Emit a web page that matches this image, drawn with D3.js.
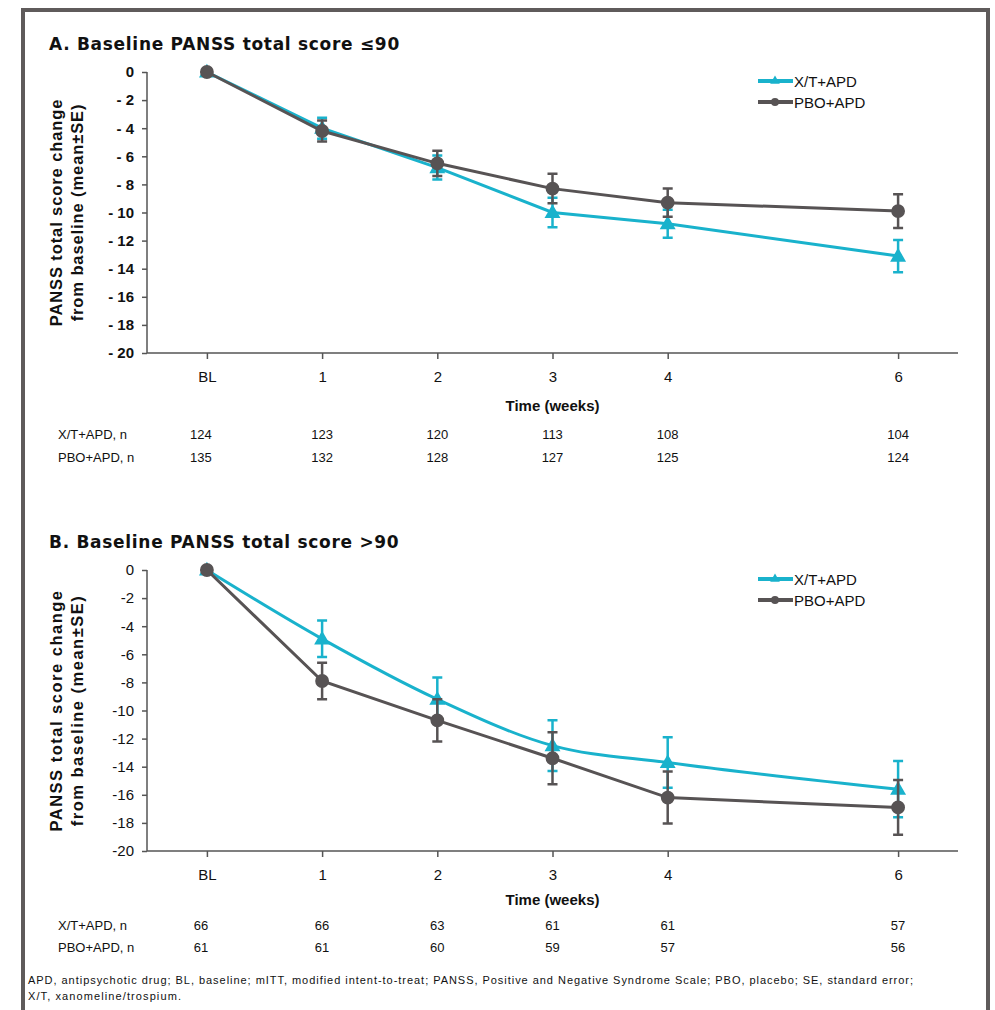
<!DOCTYPE html>
<html>
<head>
<meta charset="utf-8">
<script src="https://cdn.jsdelivr.net/npm/d3@7"></script>
<style>
  body { margin: 0; background: #fff; }
  svg text { font-family: "Liberation Sans", Arial, sans-serif; fill: #111; }
  .title { font-family: "DejaVu Sans", sans-serif; font-weight: 700; font-size: 17px; }
  .ylab { font-weight: 700; font-size: 16.5px; }
  .axis path, .axis line { stroke: #555; stroke-width: 1.5; }
  .axis text { font-size: 15px; fill: #111; }
  .boldticks text { font-weight: 700; }
  .ntab { font-size: 13px; }
  .legend { font-size: 15px; }
  .foot { font-size: 11px; }
</style>
</head>
<body>
<div id="chart"></div>
<script>
// weeks and tick labels
const weeks = [0, 1, 2, 3, 4, 6];
const weekLabels = ["BL", "1", "2", "3", "4", "6"];
const yTickValues = [0, -2, -4, -6, -8, -10, -12, -14, -16, -18, -20];
const seriesNames = ["X/T+APD", "PBO+APD"];

// panel A: baseline PANSS <= 90
const aXT = [0, -4.0, -6.8, -10.0, -10.8, -13.1];
const aXTse = [0, 0.75, 0.85, 1.05, 1.0, 1.15];
const aPBO = [0, -4.2, -6.5, -8.3, -9.3, -9.9];
const aPBOse = [0, 0.75, 0.9, 1.05, 1.0, 1.2];
const aNxt = [124, 123, 120, 113, 108, 104];
const aNpbo = [135, 132, 128, 127, 125, 124];

// panel B: baseline PANSS > 90
const bXT = [0, -4.9, -9.2, -12.5, -13.7, -15.6];
const bXTse = [0, 1.3, 1.55, 1.8, 1.8, 2.0];
const bPBO = [0, -7.9, -10.7, -13.4, -16.2, -16.9];
const bPBOse = [0, 1.3, 1.5, 1.85, 1.85, 1.95];
const bNxt = [66, 66, 63, 61, 61, 57];
const bNpbo = [61, 61, 60, 59, 57, 56];

const width = 995;
const height = 1010;
const cyan = "#19b2cc";
const grey = "#575354";

const svg = d3.select("#chart").append("svg")
    .attr("width", width)
    .attr("height", height);

// outer frame
svg.append("rect")
    .attr("x", 23).attr("y", 10)
    .attr("width", 965).attr("height", 1030)
    .attr("fill", "none")
    .attr("stroke", "#5f5b5b")
    .attr("stroke-width", 4);

const x = d3.scaleLinear().domain([-0.52, 6.52]).range([147, 958]);

function panel(opts) {
  const top = opts.top;
  const y = d3.scaleLinear().domain([-20, 0]).range([top + 281, top]);

  svg.append("text")
      .attr("class", "title")
      .attr("x", 49).attr("y", top - 22)
      .style("letter-spacing", "0.7px")
      .text(opts.title);

  // y axis
  svg.append("g")
      .attr("class", "axis" + (opts.boldTicks ? " boldticks" : ""))
      .attr("transform", `translate(${x.range()[0]},0)`)
      .call(d3.axisLeft(y).tickValues(yTickValues).tickSize(5).tickPadding(8)
        .tickFormat(d => opts.boldTicks ? String(d).replace("-", "- ") : d))
      .call(g => g.select(".domain").attr("d", `M0,${y(0)}V${y(-20)}`));

  // x axis
  svg.append("g")
      .attr("class", "axis")
      .attr("transform", `translate(0,${y(-20)})`)
      .call(d3.axisBottom(x).tickValues(weeks).tickSize(6).tickPadding(12)
        .tickFormat((d, i) => weekLabels[i]))
      .call(g => g.select(".domain").attr("d", `M${x.range()[0]},0H${x.range()[1]}`));

  svg.append("text")
      .attr("x", x(3)).attr("y", y(-20) + opts.timeOff)
      .attr("text-anchor", "middle")
      .style("font-weight", 700).style("font-size", "15px")
      .text("Time (weeks)");

  // y axis title
  const yt = svg.append("text")
      .attr("class", "ylab")
      .attr("text-anchor", "middle")
      .style("letter-spacing", opts.ylabSpacing)
      .attr("transform", `translate(57,${y(-10)}) rotate(-90)`);
  yt.append("tspan").attr("x", 0).attr("dy", 5).text("PANSS total score change");
  yt.append("tspan").attr("x", 0).attr("dy", 21).text("from baseline (mean\u00b1SE)");

  const series = [
    {name: seriesNames[0], vals: opts.xt, se: opts.xtSe, color: cyan, shape: "tri", curve: opts.xtCurve},
    {name: seriesNames[1], vals: opts.pbo, se: opts.pboSe, color: grey, shape: "circ", curve: d3.curveLinear}
  ];

  series.forEach(s => {
    const pts = weeks.map((w, i) => ({w: w, v: s.vals[i], se: s.se[i]}));
    const g = svg.append("g");

    g.selectAll("path.err")
        .data(pts.filter(d => d.se > 0))
        .enter().append("path")
        .attr("class", "err")
        .attr("d", d => `M${x(d.w)},${y(d.v + d.se)}V${y(d.v - d.se)}` +
          `M${x(d.w) - 5},${y(d.v + d.se)}H${x(d.w) + 5}` +
          `M${x(d.w) - 5},${y(d.v - d.se)}H${x(d.w) + 5}`)
        .attr("stroke", s.color).attr("stroke-width", 2.5).attr("fill", "none");

    g.append("path")
        .datum(pts)
        .attr("d", d3.line().x(d => x(d.w)).y(d => y(d.v)).curve(s.curve))
        .attr("stroke", s.color).attr("stroke-width", 3).attr("fill", "none");

    const sym = s.shape === "tri"
      ? d3.symbol().type(d3.symbolTriangle).size(110)
      : d3.symbol().type(d3.symbolCircle).size(150);
    g.selectAll("path.mark")
        .data(pts)
        .enter().append("path")
        .attr("class", "mark")
        .attr("transform", d => `translate(${x(d.w)},${y(d.v) + (s.shape === "tri" ? 1 : 0)})`)
        .attr("d", sym)
        .attr("fill", s.color);
  });

  // legend
  const lg = svg.append("g").attr("transform", `translate(758,${top + 9})`);
  series.forEach((s, i) => {
    const row = lg.append("g").attr("transform", `translate(0,${i * 21})`);
    row.append("line").attr("x1", 0).attr("x2", 35)
        .attr("stroke", s.color).attr("stroke-width", 4);
    row.append("path")
        .attr("transform", "translate(17,0)")
        .attr("d", s.shape === "tri"
          ? d3.symbol().type(d3.symbolTriangle).size(40)
          : d3.symbol().type(d3.symbolCircle).size(50))
        .attr("fill", s.color);
    row.append("text").attr("class", "legend")
        .attr("x", 36).attr("y", 5.5).text(s.name);
  });

  // n table
  const rows = [
    {label: "X/T+APD, n", n: opts.nXt},
    {label: "PBO+APD, n", n: opts.nPbo}
  ];
  rows.forEach((r, i) => {
    const ty = y(-20) + opts.rowOff + i * opts.rowGap;
    svg.append("text").attr("class", "ntab")
        .attr("x", 58).attr("y", ty).text(r.label);
    svg.selectAll(null)
        .data(r.n)
        .enter().append("text")
        .attr("class", "ntab")
        .attr("x", (d, j) => x(weeks[j]) - (j === 0 ? 6 : 0))
        .attr("y", ty)
        .attr("text-anchor", "middle")
        .text(d => d);
  });
}

panel({
  top: 72, title: "A. Baseline PANSS total score \u226490", boldTicks: true,
  xt: aXT, xtSe: aXTse, pbo: aPBO, pboSe: aPBOse, nXt: aNxt, nPbo: aNpbo,
  xtCurve: d3.curveLinear, timeOff: 58, rowOff: 86, rowGap: 23, ylabSpacing: "0.9px"
});

panel({
  top: 570, title: "B. Baseline PANSS total score >90", boldTicks: false,
  xt: bXT, xtSe: bXTse, pbo: bPBO, pboSe: bPBOse, nXt: bNxt, nPbo: bNpbo,
  xtCurve: d3.curveMonotoneX, timeOff: 54, rowOff: 79, rowGap: 22, ylabSpacing: "1.5px"
});

// footnote
const foot = svg.append("text").attr("class", "foot").attr("x", 28).attr("y", 984);
foot.append("tspan").attr("x", 28)
    .attr("textLength", 885).attr("lengthAdjust", "spacing")
    .text("APD, antipsychotic drug; BL, baseline; mITT, modified intent-to-treat; PANSS, Positive and Negative Syndrome Scale; PBO, placebo; SE, standard error;");
foot.append("tspan").attr("x", 28).attr("dy", 16)
    .style("letter-spacing", "1.1px")
    .text("X/T, xanomeline/trospium.");
</script>
</body>
</html>
